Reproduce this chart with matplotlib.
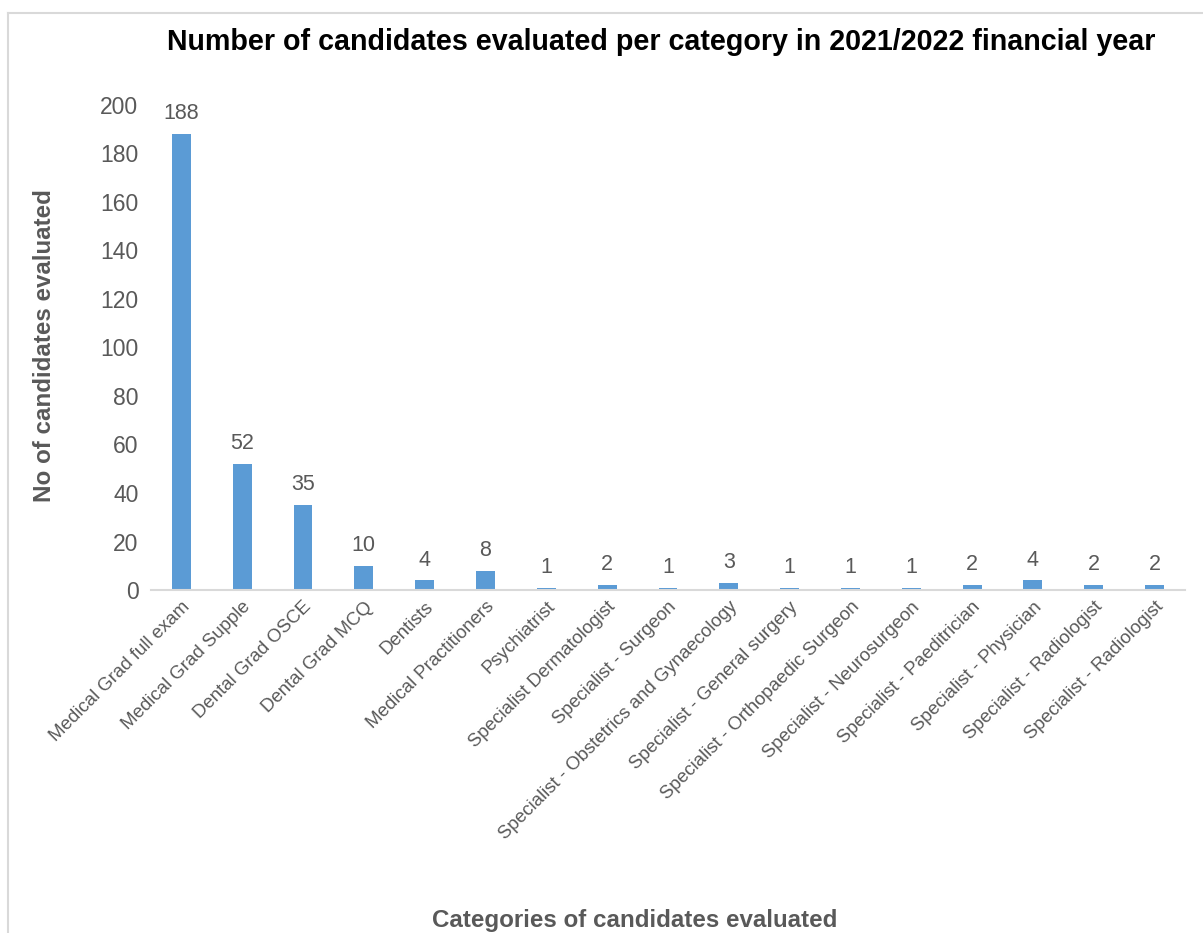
import matplotlib
matplotlib.use("Agg")
import matplotlib.pyplot as plt
from matplotlib.lines import Line2D

plt.rcParams['font.family'] = ['Liberation Sans', 'DejaVu Sans']

categories = [
    'Medical Grad full exam', 'Medical Grad Supple', 'Dental Grad OSCE',
    'Dental Grad MCQ', 'Dentists', 'Medical Practitioners', 'Psychiatrist',
    'Specialist Dermatologist', 'Specialist - Surgeon',
    'Specialist - Obstetrics and Gynaecology', 'Specialist - General surgery',
    'Specialist - Orthopaedic Surgeon', 'Specialist - Neurosurgeon',
    'Specialist - Paeditrician', 'Specialist - Physician',
    'Specialist - Radiologist', 'Specialist - Radiologist',
]
candidates = [188, 52, 35, 10, 4, 8, 1, 2, 1, 3, 1, 1, 1, 2, 4, 2, 2]

bar_color = '#5B9BD5'
text_gray = '#595959'
line_gray = '#D9D9D9'

fig = plt.figure(figsize=(12.03, 9.33), dpi=100)
ax = fig.add_axes([0.1255, 0.3676, 0.8595, 0.52])

x = list(range(len(categories)))
bars = ax.bar(x, candidates, width=0.31, color=bar_color)
ax.bar_label(bars, padding=7, fontsize=15.5, color=text_gray)

ax.set_xlim(-0.5, len(categories) - 0.5)
ax.set_ylim(0, 200)
ax.set_yticks(range(0, 201, 20))
ax.tick_params(axis='y', length=0, labelsize=16.5, labelcolor=text_gray, pad=9)
ax.set_xticks(x)
ax.set_xticklabels(categories, rotation=45, ha='right', rotation_mode='anchor',
                   fontsize=13.4, color=text_gray)
ax.tick_params(axis='x', length=0, pad=6)

for side in ['top', 'right', 'left']:
    ax.spines[side].set_visible(False)
ax.spines['bottom'].set_color(line_gray)
ax.spines['bottom'].set_linewidth(1.5)

fig.text(45 / 1203, 1 - 346 / 933, 'No of candidates evaluated', rotation=90,
         ha='center', va='center', fontsize=17.4, fontweight='bold', color=text_gray)
fig.text(0.528, 1 - 921 / 933, 'Categories of candidates evaluated', ha='center',
         va='center', fontsize=17.4, fontweight='bold', color=text_gray)
fig.text(0.55, 1 - 42 / 933, 'Number of candidates evaluated per category in 2021/2022 financial year',
         ha='center', va='center', fontsize=20.6, fontweight='bold', color='black')

# chart area outline
top = 1 - 13 / 933
left = 8 / 1203
fig.add_artist(Line2D([left, 1], [top, top], color=line_gray, lw=1.5))
fig.add_artist(Line2D([left, left], [0, top], color=line_gray, lw=1.5))

fig.savefig('out.png', dpi=100)
